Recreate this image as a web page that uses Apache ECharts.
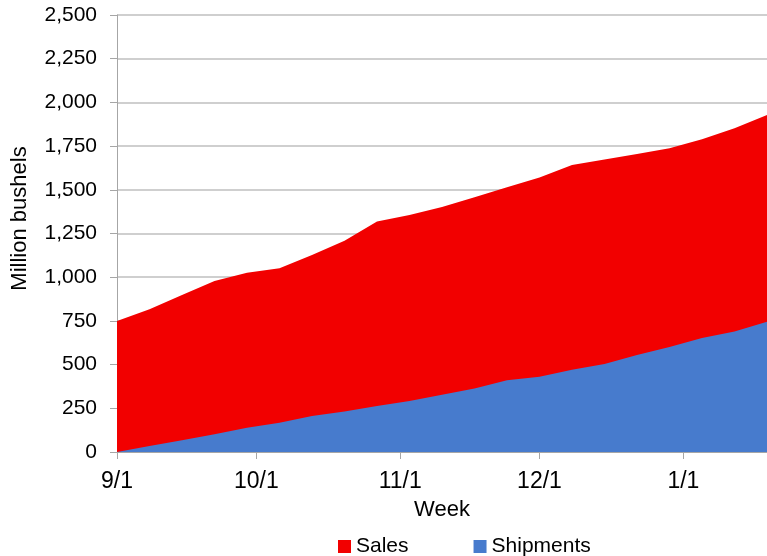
<!DOCTYPE html>
<html>
<head>
<meta charset="utf-8">
<script src="https://cdn.jsdelivr.net/npm/echarts@6/dist/echarts.min.js"></script>
<style>
  html, body { margin: 0; padding: 0; background: #fff; }
  #chart { width: 767px; height: 556px; }
</style>
</head>
<body>
<div id="chart"></div>
<script>
// days since 9/1, one point a week (9/1 ... 1/19)
var weekDays = [0, 7, 14, 21, 28, 35, 42, 49, 56, 63, 70, 77, 84, 91, 98, 105, 112, 119, 126, 133, 140];
// cumulative sales (million bushels)
var sales = [750, 816, 898, 978, 1026, 1051, 1127, 1209, 1318, 1356, 1402, 1458, 1514, 1571, 1642, 1674, 1705, 1737, 1789, 1852, 1928];
// cumulative shipments
var shipments = [0, 34, 67, 101, 139, 168, 206, 231, 263, 292, 328, 363, 410, 431, 470, 504, 555, 601, 652, 690, 745];
// x axis tick labels (month starts)
var tickDays = [0, 30, 61, 91, 122];
var tickLabels = ['9/1', '10/1', '11/1', '12/1', '1/1'];

function pairs(vals) {
    return vals.map(function (v, i) { return [weekDays[i], v]; });
}

var font = 'Liberation Sans, Arial, sans-serif';
var chart = echarts.init(document.getElementById('chart'));
chart.setOption({
    animation: false,
    textStyle: { fontFamily: font },
    grid: { left: 117, right: 0, top: 15, bottom: 104 },
    legend: {
        top: 536,
        left: 338,
        padding: 0,
        itemWidth: 13,
        itemHeight: 13,
        itemGap: 65,
        icon: 'rect',
        textStyle: { fontSize: 21, color: '#000', fontFamily: font },
        data: ['Sales', 'Shipments']
    },
    xAxis: {
        type: 'value',
        min: 0,
        max: 140,
        name: 'Week',
        nameLocation: 'middle',
        nameGap: 47,
        nameTextStyle: { fontSize: 22, color: '#000', fontFamily: font },
        axisLine: { lineStyle: { color: '#a6a6a6' } },
        axisTick: { show: true, length: 7, customValues: tickDays, lineStyle: { color: '#a6a6a6' } },
        axisLabel: {
            customValues: tickDays,
            fontSize: 23,
            color: '#000',
            margin: 18,
            formatter: function (v) { return tickLabels[tickDays.indexOf(v)]; }
        },
        splitLine: { show: false }
    },
    yAxis: {
        type: 'value',
        min: 0,
        max: 2500,
        interval: 250,
        name: 'Million bushels',
        nameLocation: 'middle',
        nameGap: 86,
        nameTextStyle: { fontSize: 22, color: '#000', fontFamily: font, padding: [0, 0, 0, 30] },
        axisLine: { show: true, lineStyle: { color: '#a6a6a6' } },
        axisTick: { show: true, length: 7, lineStyle: { color: '#a6a6a6' } },
        axisLabel: {
            fontSize: 21,
            color: '#000',
            margin: 20,
            formatter: function (v) { return v.toLocaleString('en-US'); }
        },
        splitLine: { lineStyle: { color: '#bfbfbf', width: 1.5 } }
    },
    series: [
        {
            name: 'Sales',
            type: 'line',
            data: pairs(sales),
            showSymbol: false,
            lineStyle: { width: 0 },
            itemStyle: { color: '#f20000' },
            areaStyle: { color: '#f20000', opacity: 1 }
        },
        {
            name: 'Shipments',
            type: 'line',
            data: pairs(shipments),
            showSymbol: false,
            lineStyle: { width: 0 },
            itemStyle: { color: '#477bcd' },
            areaStyle: { color: '#477bcd', opacity: 1 }
        }
    ]
});
</script>
</body>
</html>
